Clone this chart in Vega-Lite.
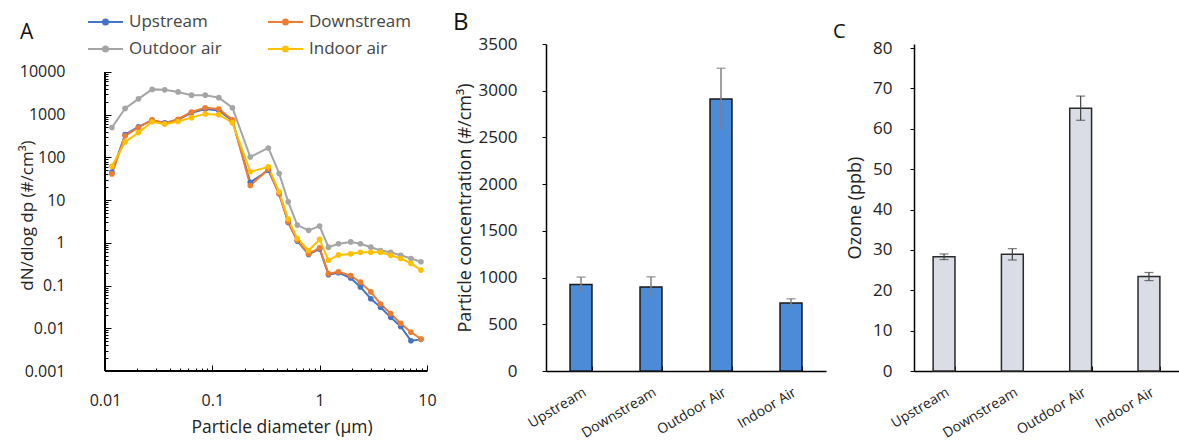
{
  "$schema": "https://vega.github.io/schema/vega-lite/v6.json",
  "background": "white",
  "padding": {"left": 18, "top": 11, "right": 0, "bottom": 0},
  "config": {
    "font": "Open Sans",
    "view": {"stroke": null},
    "axis": {"grid": false, "domainColor": "#000", "domainWidth": 1.5, "tickColor": "#000", "tickWidth": 1, "labelColor": "#222", "titleColor": "#222", "titleFontWeight": "normal", "labelFont": "Open Sans", "titleFont": "Open Sans"},
    "title": {"font": "Open Sans", "fontWeight": "normal", "color": "#111"}
  },
  "spacing": 88,
  "bounds": "flush",
  "align": "each",
  "hconcat": [
    {
      "width": 353,
      "height": 327,
      "title": {"text": "A", "anchor": "start", "frame": "group", "dx": -85, "offset": 1, "fontSize": 21},
      "data": {"values": [
        {"d":0.0116,"s":"Upstream","v":45},{"d":0.0154,"s":"Upstream","v":340},{"d":0.0205,"s":"Upstream","v":520},{"d":0.0275,"s":"Upstream","v":740},{"d":0.036,"s":"Upstream","v":640},{"d":0.048,"s":"Upstream","v":760},{"d":0.064,"s":"Upstream","v":1100},{"d":0.086,"s":"Upstream","v":1350},{"d":0.115,"s":"Upstream","v":1250},{"d":0.154,"s":"Upstream","v":720},
        {"d":0.226,"s":"Upstream","v":26},{"d":0.333,"s":"Upstream","v":50},{"d":0.42,"s":"Upstream","v":14},{"d":0.51,"s":"Upstream","v":3.0},{"d":0.62,"s":"Upstream","v":1.1},{"d":0.79,"s":"Upstream","v":0.53},{"d":1.0,"s":"Upstream","v":0.72},{"d":1.21,"s":"Upstream","v":0.18},{"d":1.5,"s":"Upstream","v":0.2},{"d":1.95,"s":"Upstream","v":0.15},{"d":2.4,"s":"Upstream","v":0.093},{"d":3.0,"s":"Upstream","v":0.049},{"d":3.7,"s":"Upstream","v":0.031},{"d":4.6,"s":"Upstream","v":0.018},{"d":5.7,"s":"Upstream","v":0.011},{"d":7.1,"s":"Upstream","v":0.0051},{"d":8.8,"s":"Upstream","v":0.0055},
        {"d":0.0116,"s":"Downstream","v":41},{"d":0.0154,"s":"Downstream","v":320},{"d":0.0205,"s":"Downstream","v":500},{"d":0.0275,"s":"Downstream","v":760},{"d":0.036,"s":"Downstream","v":620},{"d":0.048,"s":"Downstream","v":780},{"d":0.064,"s":"Downstream","v":1150},{"d":0.086,"s":"Downstream","v":1450},{"d":0.115,"s":"Downstream","v":1350},{"d":0.154,"s":"Downstream","v":760},
        {"d":0.226,"s":"Downstream","v":22},{"d":0.333,"s":"Downstream","v":53},{"d":0.42,"s":"Downstream","v":14},{"d":0.51,"s":"Downstream","v":3.1},{"d":0.62,"s":"Downstream","v":1.15},{"d":0.79,"s":"Downstream","v":0.55},{"d":1.0,"s":"Downstream","v":0.76},{"d":1.21,"s":"Downstream","v":0.19},{"d":1.5,"s":"Downstream","v":0.21},{"d":1.95,"s":"Downstream","v":0.17},{"d":2.4,"s":"Downstream","v":0.12},{"d":3.0,"s":"Downstream","v":0.071},{"d":3.7,"s":"Downstream","v":0.037},{"d":4.6,"s":"Downstream","v":0.022},{"d":5.7,"s":"Downstream","v":0.013},{"d":7.1,"s":"Downstream","v":0.0081},{"d":8.8,"s":"Downstream","v":0.0056},
        {"d":0.0116,"s":"Outdoor air","v":500},{"d":0.0154,"s":"Outdoor air","v":1400},{"d":0.0205,"s":"Outdoor air","v":2340},{"d":0.0275,"s":"Outdoor air","v":3900},{"d":0.036,"s":"Outdoor air","v":3800},{"d":0.048,"s":"Outdoor air","v":3400},{"d":0.064,"s":"Outdoor air","v":2850},{"d":0.086,"s":"Outdoor air","v":2850},{"d":0.115,"s":"Outdoor air","v":2500},{"d":0.154,"s":"Outdoor air","v":1450},
        {"d":0.226,"s":"Outdoor air","v":102},{"d":0.333,"s":"Outdoor air","v":166},{"d":0.42,"s":"Outdoor air","v":42},{"d":0.51,"s":"Outdoor air","v":9.1},{"d":0.62,"s":"Outdoor air","v":2.6},{"d":0.79,"s":"Outdoor air","v":1.96},{"d":1.0,"s":"Outdoor air","v":2.46},{"d":1.21,"s":"Outdoor air","v":0.79},{"d":1.5,"s":"Outdoor air","v":0.95},{"d":1.95,"s":"Outdoor air","v":1.05},{"d":2.4,"s":"Outdoor air","v":0.95},{"d":3.0,"s":"Outdoor air","v":0.79},{"d":3.7,"s":"Outdoor air","v":0.66},{"d":4.6,"s":"Outdoor air","v":0.6},{"d":5.7,"s":"Outdoor air","v":0.51},{"d":7.1,"s":"Outdoor air","v":0.43},{"d":8.8,"s":"Outdoor air","v":0.36},
        {"d":0.0116,"s":"Indoor air","v":62},{"d":0.0154,"s":"Indoor air","v":230},{"d":0.0205,"s":"Indoor air","v":380},{"d":0.0275,"s":"Indoor air","v":680},{"d":0.036,"s":"Indoor air","v":600},{"d":0.048,"s":"Indoor air","v":690},{"d":0.064,"s":"Indoor air","v":850},{"d":0.086,"s":"Indoor air","v":1040},{"d":0.115,"s":"Indoor air","v":1000},{"d":0.154,"s":"Indoor air","v":650},
        {"d":0.226,"s":"Indoor air","v":46},{"d":0.333,"s":"Indoor air","v":60},{"d":0.42,"s":"Indoor air","v":15.5},{"d":0.51,"s":"Indoor air","v":3.6},{"d":0.62,"s":"Indoor air","v":1.26},{"d":0.79,"s":"Indoor air","v":0.66},{"d":1.0,"s":"Indoor air","v":1.2},{"d":1.21,"s":"Indoor air","v":0.39},{"d":1.5,"s":"Indoor air","v":0.52},{"d":1.95,"s":"Indoor air","v":0.55},{"d":2.4,"s":"Indoor air","v":0.6},{"d":3.0,"s":"Indoor air","v":0.6},{"d":3.7,"s":"Indoor air","v":0.6},{"d":4.6,"s":"Indoor air","v":0.51},{"d":5.7,"s":"Indoor air","v":0.43},{"d":7.1,"s":"Indoor air","v":0.33},{"d":8.8,"s":"Indoor air","v":0.23}
      ]},
      "layer": [
        {
          "mark": {"type": "line", "strokeWidth": 2, "point": {"filled": true, "size": 32}},
          "encoding": {
            "x": {"field": "d", "type": "quantitative", "scale": {"type": "log", "domain": [0.01, 19.5], "nice": false},
                  "axis": {"orient": "bottom", "values": [0.01, 0.1, 1, 10], "format": "~g", "domain": false, "ticks": false, "tickSize": 0, "labelFontSize": 16, "labelPadding": 21, "labelFlush": false, "labelOverlap": false, "title": "Particle diameter (µm)", "titleFontSize": 17.5, "titlePadding": 10}},
            "y": {"field": "v", "type": "quantitative", "scale": {"type": "log", "domain": [0.001, 45000], "nice": false},
                  "axis": {"orient": "left", "values": [0.001, 0.01, 0.1, 1, 10, 100, 1000, 10000], "format": "~g", "domain": false, "ticks": false, "tickSize": 0, "labelFontSize": 16, "labelPadding": 40, "labelOverlap": false, "title": "dN/dlog dp (#/cm³)", "titleFontSize": 17, "titleX": -69, "titleY": 171, "titleBaseline": "bottom", "titleAngle": 270, "titleAlign": "center"}},
            "color": {"field": "s", "type": "nominal",
                      "scale": {"domain": ["Upstream", "Downstream", "Outdoor air", "Indoor air"], "range": ["#4472C4", "#ED7D31", "#A5A5A5", "#FFC000"]},
                      "legend": {"orient": "none", "legendX": -18, "legendY": -32, "columns": 2, "direction": "horizontal", "title": null, "columnPadding": 45, "rowPadding": 7, "clipHeight": 20,
                                 "symbolType": "M-1,0H1M0.029,0A0.029,0.029,0,1,1,-0.029,0A0.029,0.029,0,1,1,0.029,0M0.086,0A0.086,0.086,0,1,1,-0.086,0A0.086,0.086,0,1,1,0.086,0M0.143,0A0.143,0.143,0,1,1,-0.143,0A0.143,0.143,0,1,1,0.143,0",
                                 "symbolSize": 1225, "symbolStrokeWidth": 2, "labelFontSize": 17, "labelFont": "Open Sans", "labelColor": "#444", "labelOffset": 5}}
          }
        },
        {
          "mark": {"type": "rule", "color": "#000", "strokeWidth": 1.5},
          "encoding": {
            "x": {"datum": 0.01, "type": "quantitative", "scale": {"type": "log", "domain": [0.01, 19.5], "nice": false},
                  "axis": {"orient": "bottom", "values": [0.02,0.03,0.04,0.05,0.06,0.07,0.08,0.09,0.2,0.3,0.4,0.5,0.6,0.7,0.8,0.9,2,3,4,5,6,7,8,9], "domain": false, "labels": false, "title": null, "tickSize": -3}},
            "y": {"datum": 0.001, "type": "quantitative", "scale": {"type": "log", "domain": [0.001, 45000], "nice": false},
                  "axis": {"orient": "left", "values": [0.002,0.003,0.004,0.005,0.006,0.007,0.008,0.009,0.02,0.03,0.04,0.05,0.06,0.07,0.08,0.09,0.2,0.3,0.4,0.5,0.6,0.7,0.8,0.9,2,3,4,5,6,7,8,9,20,30,40,50,60,70,80,90,200,300,400,500,600,700,800,900,2000,3000,4000,5000,6000,7000,8000,9000], "domain": false, "labels": false, "title": null, "tickSize": -3}},
            "y2": {"datum": 10000}
          }
        },
        {
          "mark": {"type": "rule", "color": "#000", "strokeWidth": 1.5},
          "encoding": {
            "x": {"datum": 0.01, "type": "quantitative", "scale": {"type": "log", "domain": [0.01, 19.5], "nice": false},
                  "axis": {"orient": "bottom", "values": [0.01, 0.1, 1, 10], "domain": false, "labels": false, "title": null, "tickSize": -6}},
            "x2": {"datum": 10},
            "y": {"datum": 0.001, "type": "quantitative", "scale": {"type": "log", "domain": [0.001, 45000], "nice": false},
                  "axis": {"orient": "left", "values": [0.001, 0.01, 0.1, 1, 10, 100, 1000, 10000], "domain": false, "labels": false, "title": null, "tickSize": -6}}
          }
        }
      ],
      "resolve": {"axis": {"x": "independent", "y": "independent"}}
    },
    {
      "width": 280,
      "height": 327,
      "title": {"text": "B", "anchor": "start", "frame": "group", "dx": -93, "offset": 0, "fontSize": 24},
      "data": {"values": [
        {"cat": "Upstream", "value": 925, "lo": 845, "hi": 1005},
        {"cat": "Downstream", "value": 900, "lo": 792, "hi": 1008},
        {"cat": "Outdoor Air", "value": 2910, "lo": 2580, "hi": 3240},
        {"cat": "Indoor Air", "value": 728, "lo": 683, "hi": 773}
      ]},
      "encoding": {
        "x": {"field": "cat", "type": "nominal", "sort": null, "scale": {"paddingInner": 0.686, "paddingOuter": 0.343},
              "axis": {"title": null, "labelAngle": -31, "labelAlign": "right", "labelBaseline": "top", "labelFontSize": 14, "tickBand": "extent", "tickSize": -5, "labelPadding": 19}}
      },
      "layer": [
        {
          "mark": {"type": "bar", "fill": "#4C8BD8", "stroke": "#1a1a1a", "strokeWidth": 1.5},
          "encoding": {
            "y": {"field": "value", "type": "quantitative", "scale": {"domain": [0, 3500], "nice": false},
                  "axis": {"values": [0, 500, 1000, 1500, 2000, 2500, 3000, 3500], "format": "d", "tickSize": 4, "labelFontSize": 17, "labelPadding": 25, "title": "Particle concentration (#/cm³)", "titleFontSize": 18, "titlePadding": 4}}
          }
        },
        {
          "mark": {"type": "rule", "color": "#808080", "strokeWidth": 1.5},
          "encoding": {"y": {"field": "lo", "type": "quantitative"}, "y2": {"field": "hi"}}
        },
        {
          "mark": {"type": "tick", "color": "#808080", "size": 9, "thickness": 1.5},
          "encoding": {"y": {"field": "hi", "type": "quantitative"}}
        }
      ]
    },
    {
      "width": 265,
      "height": 327,
      "title": {"text": "C", "anchor": "start", "frame": "group", "dx": -81, "offset": -3, "fontSize": 20},
      "data": {"values": [
        {"cat": "Upstream", "value": 28.3, "lo": 27.6, "hi": 29.0},
        {"cat": "Downstream", "value": 28.9, "lo": 27.5, "hi": 30.3},
        {"cat": "Outdoor Air", "value": 65.1, "lo": 62.1, "hi": 68.1},
        {"cat": "Indoor Air", "value": 23.4, "lo": 22.4, "hi": 24.4}
      ]},
      "encoding": {
        "x": {"field": "cat", "type": "nominal", "sort": null, "scale": {"paddingInner": 0.68, "paddingOuter": 0.28},
              "axis": {"title": null, "labelAngle": -31, "labelAlign": "right", "labelBaseline": "top", "labelFontSize": 14, "tickBand": "extent", "tickSize": -5, "labelPadding": 19}}
      },
      "layer": [
        {
          "mark": {"type": "bar", "fill": "#DADCE6", "stroke": "#2a2a2a", "strokeWidth": 1.5},
          "encoding": {
            "y": {"field": "value", "type": "quantitative", "scale": {"domain": [0, 81], "nice": false},
                  "axis": {"values": [0, 10, 20, 30, 40, 50, 60, 70, 80], "tickSize": 4, "labelFontSize": 17, "labelPadding": 18, "title": "Ozone (ppb)", "titleFontSize": 18, "titlePadding": 8}}
          }
        },
        {
          "mark": {"type": "rule", "color": "#404040", "strokeWidth": 1.2},
          "encoding": {"y": {"field": "lo", "type": "quantitative"}, "y2": {"field": "hi"}}
        },
        {
          "mark": {"type": "tick", "color": "#404040", "size": 9, "thickness": 1.2},
          "encoding": {"y": {"field": "hi", "type": "quantitative"}}
        },
        {
          "mark": {"type": "tick", "color": "#404040", "size": 9, "thickness": 1.2},
          "encoding": {"y": {"field": "lo", "type": "quantitative"}}
        }
      ]
    }
  ]
}
